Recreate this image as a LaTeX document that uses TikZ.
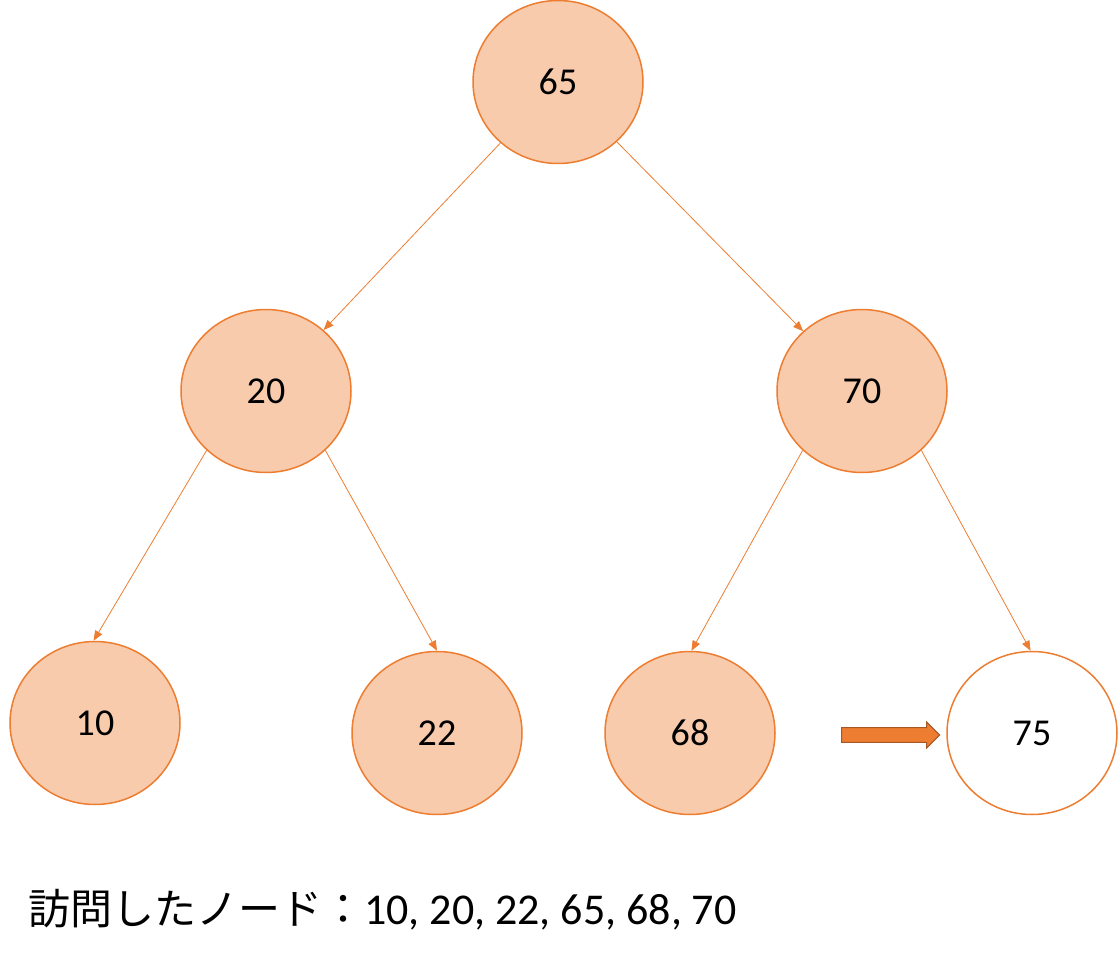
\documentclass[tikz,border=0pt]{standalone}
\usepackage{fontspec}
\setmainfont{Carlito}
\newfontfamily\cjk{Noto Sans CJK JP}
\usetikzlibrary{shapes.geometric,shapes.arrows,arrows.meta}
\definecolor{orng}{HTML}{ED7D31}
\definecolor{peach}{HTML}{F8CBAD}
\begin{document}
\begin{tikzpicture}[x=1pt,y=-1pt,
  nd/.style={ellipse,draw=orng,line width=1.5pt,fill=peach,minimum width=170pt,minimum height=163pt,inner sep=0pt,font=\fontsize{38}{40}\selectfont},
  ed/.style={draw=orng,line width=0.8pt,-{Triangle[length=10pt,width=8pt]}}]
\useasboundingbox (0,0) rectangle (1120,960);
\node[nd] (n65) at (558,82) {65};
\node[nd] (n20) at (266,391) {20};
\node[nd] (n70) at (862,391) {70};
\node[nd] (n10) at (95,723) {10};
\node[nd] (n22) at (437,733) {22};
\node[nd] (n68) at (690,733) {68};
\node[nd,fill=white] (n75) at (1032,733) {75};
\draw[ed] (n65) -- (n20);
\draw[ed] (n65) -- (n70);
\draw[ed] (n20.225) -- (n10.91);
\draw[ed] (n20.315) -- (n22.90);
\draw[ed] (n70.225) -- (n68.89);
\draw[ed] (n70.315) -- (n75.91);
\node[single arrow,draw=orng!70!black,fill=orng,line width=1pt,minimum height=98pt,minimum width=26pt,single arrow head extend=5pt,inner sep=6pt] (arr) at (887,735) {};
\node[anchor=west,inner sep=0pt,font=\fontsize{44}{48}\selectfont] (txt) at (28,910) {{\cjk\fontsize{42}{48}\selectfont 訪問したノード：}10, 20, 22, 65, 68, 70};
\end{tikzpicture}
\end{document}
